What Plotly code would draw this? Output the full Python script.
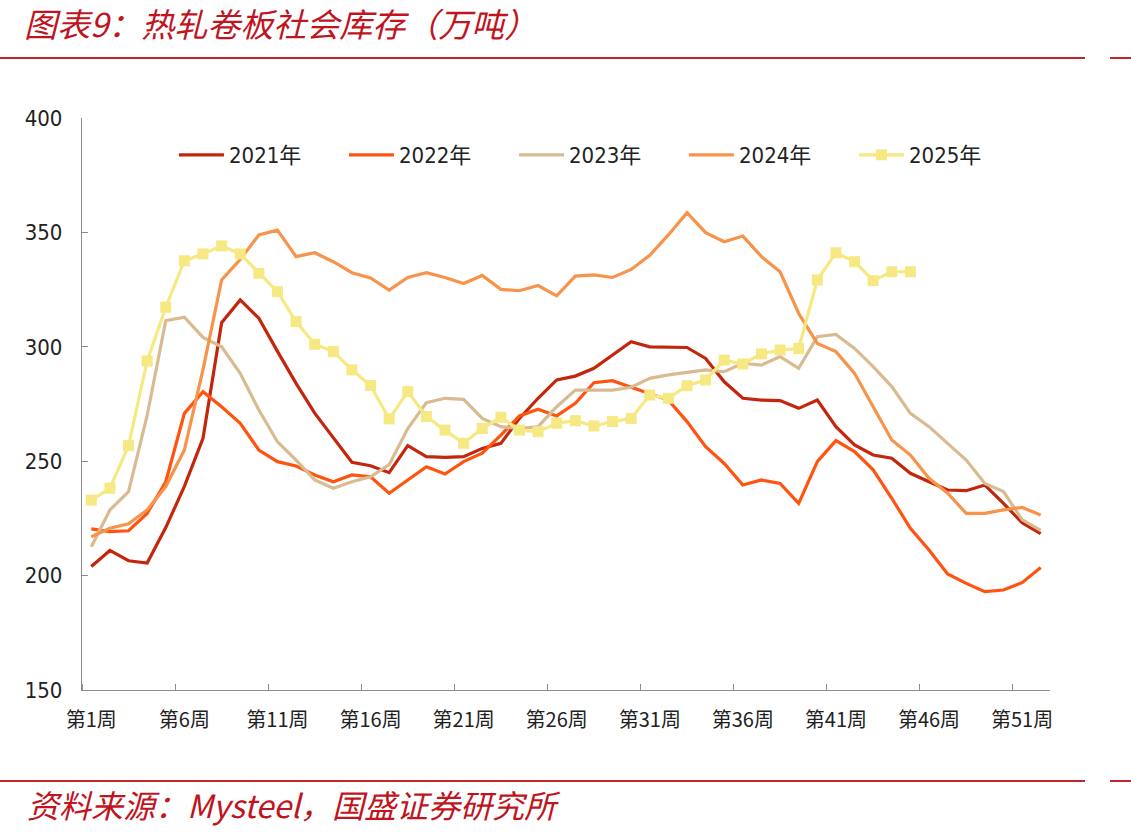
import plotly.graph_objects as go

weeks_label = [f"第{i}周" for i in range(1, 53)]
tick_weeks = [1, 6, 11, 16, 21, 26, 31, 36, 41, 46, 51]

y2021 = [204, 211, 206.5, 205.5, 221, 239, 260, 310.5, 320.5, 312.5, 298, 284, 271, 260, 249.5, 248,
         245, 256.8, 252, 251.7, 252, 255.6, 257.8, 268.7, 277.5, 285.5, 287.2, 290.6, 296.4, 302.2,
         300, 300, 299.7, 294.9, 284.7, 277.5, 276.7, 276.5, 273.1, 276.7, 265.1, 257.1, 252.7, 251.3,
         244.7, 241, 237.4, 237.1, 239.6, 231.6, 223.1, 218.3]
y2022 = [220.4, 219.2, 219.6, 227.2, 241, 270.9, 280.4, 273.8, 266.6, 254.9, 249.8, 247.9, 244, 241,
         244, 243.2, 236, 242, 247.6, 244.4, 249.8, 253.5, 261.4, 269.8, 272.7, 269.8, 275.3, 284.3,
         285.2, 282.3, 279.6, 276.7, 267.3, 256.3, 249, 239.6, 241.8, 240.3, 231.6, 249.8, 259, 254.2,
         246.2, 233.8, 220.7, 211.2, 200.7, 196.6, 193, 193.7, 196.9, 203.5]
y2023 = [212.6, 228.7, 236.7, 270, 311.4, 312.9, 304.1, 300, 288.4, 272.4, 258.5, 250.5, 241.8, 238.2,
         241, 243.2, 248.5, 264.3, 275.6, 277.5, 277, 268.7, 265.1, 264.3, 265.1, 273.8, 281.1, 281.1,
         281.1, 282.3, 286.2, 287.7, 288.7, 289.9, 289.1, 292.8, 292, 295.7, 290.6, 304.4, 305.4, 299.3,
         291.3, 282.6, 270.9, 265.1, 257.8, 250.5, 240.3, 236.7, 224.5, 219.8]
y2024 = [217, 220.7, 222.6, 228.7, 238.9, 254.9, 290, 329.2, 338.2, 348.9, 351, 339.4, 341.1, 337.2,
         332.4, 330.1, 324.8, 330.3, 332.4, 330.3, 327.7, 331.2, 325.1, 324.5, 326.8, 322.3, 330.9,
         331.4, 330.3, 333.8, 340, 348.9, 358.6, 349.9, 345.9, 348.4, 339.4, 332.8, 314.6, 301.5, 297.9,
         288.4, 273.8, 259.3, 252.7, 242.5, 236, 227.2, 227.2, 228.7, 229.8, 226.5]
y2025 = [233, 238.2, 256.8, 293.8, 317.3, 337.6, 340.6, 344.1, 340.6, 332.1, 324.1, 311, 301.1, 297.9,
         289.9, 283.1, 268.5, 280.4, 269.5, 263.6, 257.8, 264.3, 269.2, 263.6, 262.9, 266.6, 267.7,
         265.4, 267.3, 268.7, 278.9, 277.5, 283, 285.5, 294.2, 292.5, 296.9, 298.6, 299.3, 329.2, 341.1,
         337.2, 328.9, 332.8, 332.8]

series = [
    ("2021年", y2021, "#C3260C", False),
    ("2022年", y2022, "#FF5410", False),
    ("2023年", y2023, "#D9BB92", False),
    ("2024年", y2024, "#F7934A", False),
    ("2025年", y2025, "#F6E882", True),
]

fig = go.Figure()
for name, vals, color, markers in series:
    fig.add_trace(go.Scatter(
        x=list(range(1, len(vals) + 1)), y=vals, name=name,
        mode="lines+markers" if markers else "lines",
        line=dict(color=color, width=3.2),
        marker=dict(symbol="square", size=11, color=color) if markers else None,
    ))

axis_color = "#8C8C8C"
num_font = "DejaVu Sans Condensed, DejaVu Sans, Noto Sans CJK SC"
fig.update_layout(
    width=1131, height=836,
    margin=dict(l=82, r=81, t=118, b=146),
    paper_bgcolor="white", plot_bgcolor="white",
    font=dict(family=num_font, size=16, color="#222222"),
    showlegend=True,
    legend=dict(orientation="h", x=0.095, y=0.972, xanchor="left", yanchor="top",
                entrywidth=110, entrywidthmode="pixels", itemwidth=45,
                font=dict(family=num_font, size=22, color="#222222"),
                bgcolor="rgba(0,0,0,0)"),
    xaxis=dict(range=[0.5, 52.5], tickmode="array", tickvals=tick_weeks,
               ticktext=[weeks_label[i - 1] for i in tick_weeks],
               ticks="", showline=True, linecolor=axis_color, linewidth=1.3,
               showgrid=False, zeroline=False, ticklabelstandoff=12,
               tickfont=dict(family="Noto Sans CJK SC", size=20, color="#222222"),
               minor=dict(tickmode="array", tickvals=[0.5 + 5 * k for k in range(11)],
                          ticks="inside", ticklen=6, tickcolor=axis_color, tickwidth=1.3,
                          showgrid=False)),
    yaxis=dict(range=[150, 400], tickmode="linear", tick0=150, dtick=50,
               ticks="inside", ticklen=6, tickcolor=axis_color, tickwidth=1.3,
               showline=True, linecolor=axis_color, linewidth=1.3,
               showgrid=False, zeroline=False, ticklabelstandoff=14,
               tickfont=dict(family=num_font, size=22, color="#222222")),
)

red = "#C0262D"
for yy in (58, 781):
    fig.add_shape(type="line", xref="paper", yref="paper",
                  x0=(0 - 82) / 968, x1=(1085 - 82) / 968,
                  y0=(836 - 146 - yy) / 572, y1=(836 - 146 - yy) / 572,
                  line=dict(color=red, width=2))
    fig.add_shape(type="line", xref="paper", yref="paper",
                  x0=(1110 - 82) / 968, x1=(1131 - 82) / 968,
                  y0=(836 - 146 - yy) / 572, y1=(836 - 146 - yy) / 572,
                  line=dict(color=red, width=2))

fig.add_annotation(text="<i>图表9：热轧卷板社会库存（万吨）</i>", xref="paper", yref="paper",
                   x=(22 - 82) / 968, y=(836 - 146 - 23) / 572, xanchor="left", yanchor="middle",
                   showarrow=False, font=dict(family="Noto Sans CJK SC", size=33, color="#C0141E"))
fig.add_annotation(text="<i>资料来源：Mysteel，国盛证券研究所</i>", xref="paper", yref="paper",
                   x=(25 - 82) / 968, y=(836 - 146 - 804) / 572, xanchor="left", yanchor="middle",
                   showarrow=False, font=dict(family="Noto Sans CJK SC", size=32, color="#C0141E"))

fig.write_html("out.html")
